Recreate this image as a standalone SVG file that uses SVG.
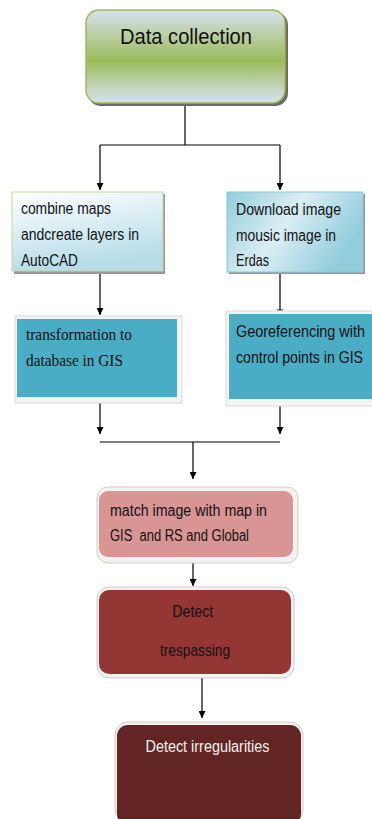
<svg xmlns="http://www.w3.org/2000/svg" width="372" height="819" viewBox="0 0 372 819">
<defs>
<linearGradient id="gGreen" x1="0" y1="0" x2="0" y2="1">
<stop offset="0" stop-color="#d7e1ec"/>
<stop offset="0.2" stop-color="#c2d3b8"/>
<stop offset="0.55" stop-color="#9bbb59"/>
<stop offset="0.85" stop-color="#c7d6c4"/>
<stop offset="1" stop-color="#d7e1ec"/>
</linearGradient>
<linearGradient id="gLight" x1="0" y1="0" x2="0.3" y2="1">
<stop offset="0" stop-color="#ffffff"/>
<stop offset="1" stop-color="#b6dde8"/>
</linearGradient>
<linearGradient id="gTeal" x1="0" y1="0" x2="1" y2="0.4">
<stop offset="0" stop-color="#92cddc"/>
<stop offset="0.5" stop-color="#dbeef4"/>
<stop offset="1" stop-color="#92cddc"/>
</linearGradient>
<marker id="arr" viewBox="0 0 8 8" refX="8" refY="4" markerWidth="7" markerHeight="7" markerUnits="userSpaceOnUse" orient="auto">
<path d="M0,0 L8,4 L0,8 Z" fill="#000"/>
</marker>
</defs>
<style>
.sans{font-family:"Liberation Sans","DejaVu Sans",sans-serif;}
.serif{font-family:"Liberation Serif","DejaVu Serif",serif;}
.ln{stroke:#000;stroke-width:1.2;fill:none;}
.shadow{fill:#9a9a9a;}
.frame{fill:#f4f4f4;stroke:#d9d9d9;stroke-width:1;}
</style>

<g id="connectors">
<path class="ln" d="M185,104 V145"/>
<path class="ln" d="M100,145 H280"/>
<path class="ln" d="M100,145 V190" marker-end="url(#arr)"/>
<path class="ln" d="M280,145 V190" marker-end="url(#arr)"/>
<path class="ln" d="M100,273 V315" marker-end="url(#arr)"/>
<path class="ln" d="M280,273 V310 M277,310 H283"/>
<path class="ln" d="M100,402 V434" marker-end="url(#arr)"/>
<path class="ln" d="M280,384 V434" marker-end="url(#arr)"/>
<path class="ln" d="M100,442 H280"/>
<path class="ln" d="M193,442 V479" marker-end="url(#arr)"/>
<path class="ln" d="M193,558 V586" marker-end="url(#arr)"/>
<path class="ln" d="M202,678 V718" marker-end="url(#arr)"/>
</g>

<g id="n-data-collection">
<rect x="88" y="12" width="200" height="94" rx="13" fill="#6b6b6b"/>
<rect x="86" y="10" width="199" height="93" rx="13" fill="url(#gGreen)" stroke="#9bbb59" stroke-width="1.5"/>
<text class="sans" x="120" y="44" font-size="22" fill="#111" textLength="132" lengthAdjust="spacingAndGlyphs">Data collection</text>
</g>

<g id="n-combine">
<rect x="14" y="194" width="151" height="80" class="shadow"/>
<rect x="12" y="192" width="151" height="79" fill="url(#gLight)" stroke="#c3d69b" stroke-width="1"/>
<text class="sans" font-size="16" fill="#111" lengthAdjust="spacingAndGlyphs">
<tspan x="21" y="214" textLength="90" lengthAdjust="spacingAndGlyphs">combine maps</tspan>
<tspan x="21" y="240" textLength="118" lengthAdjust="spacingAndGlyphs">andcreate layers in</tspan>
<tspan x="21" y="266" textLength="57" lengthAdjust="spacingAndGlyphs">AutoCAD</tspan>
</text>
</g>

<g id="n-download">
<rect x="229" y="194" width="136" height="80" class="shadow"/>
<rect x="227" y="192" width="136" height="80" fill="url(#gTeal)" stroke="#8cc6d6" stroke-width="1"/>
<text class="sans" font-size="16" fill="#111">
<tspan x="236" y="215" textLength="105" lengthAdjust="spacingAndGlyphs">Download image</tspan>
<tspan x="236" y="241" textLength="100" lengthAdjust="spacingAndGlyphs">mousic image in</tspan>
<tspan x="236" y="266" textLength="33" lengthAdjust="spacingAndGlyphs">Erdas</tspan>
</text>
</g>

<g id="n-transformation">
<rect x="15" y="316" width="167" height="87" class="frame"/>
<rect x="17" y="319" width="160" height="78" fill="#4bacc6"/>
<text class="serif" font-size="17.5" fill="#111">
<tspan x="26" y="340" textLength="106" lengthAdjust="spacingAndGlyphs">transformation to</tspan>
<tspan x="26" y="366" textLength="97" lengthAdjust="spacingAndGlyphs">database in GIS</tspan>
</text>
</g>

<g id="n-georef">
<rect x="226" y="311" width="150" height="95" class="frame"/>
<rect x="229" y="314" width="150" height="85" fill="#4bacc6"/>
<text class="sans" font-size="16" fill="#111">
<tspan x="236" y="337" textLength="129" lengthAdjust="spacingAndGlyphs">Georeferencing with</tspan>
<tspan x="236" y="363" textLength="127" lengthAdjust="spacingAndGlyphs">control points in GIS</tspan>
</text>
</g>

<g id="n-match">
<rect x="97" y="487" width="201" height="76" rx="11" fill="#f2f2f2" stroke="#d0d0c0" stroke-width="1"/>
<rect x="99" y="491" width="194" height="66" rx="9" fill="#d99594"/>
<text class="sans" font-size="16" fill="#111">
<tspan x="110" y="516" textLength="157" lengthAdjust="spacingAndGlyphs">match image with map in</tspan>
<tspan x="110" y="541" xml:space="preserve" textLength="139" lengthAdjust="spacingAndGlyphs">GIS  and RS and Global</tspan>
</text>
</g>

<g id="n-trespass">
<rect x="97" y="587" width="197" height="91" rx="12" fill="#f2f2f2" stroke="#d4c8c8" stroke-width="1"/>
<rect x="99" y="590" width="192" height="84" rx="10" fill="#943634"/>
<text class="sans" font-size="16" fill="#111" text-anchor="middle">
<tspan x="195" y="617" textLength="41" lengthAdjust="spacingAndGlyphs">Detect</tspan>
<tspan x="195" y="656" textLength="70" lengthAdjust="spacingAndGlyphs">trespassing</tspan>
</text>
</g>

<g id="n-irregular">
<rect x="115" y="722" width="188" height="100" rx="13" fill="#f2f2f2" stroke="#d4c8c8" stroke-width="1"/>
<rect x="117" y="725" width="184" height="100" rx="11" fill="#632523"/>
<text class="sans" x="207.5" y="752" font-size="16" fill="#f2f2f2" text-anchor="middle" textLength="124" lengthAdjust="spacingAndGlyphs">Detect irregularities</text>
</g>
</svg>
